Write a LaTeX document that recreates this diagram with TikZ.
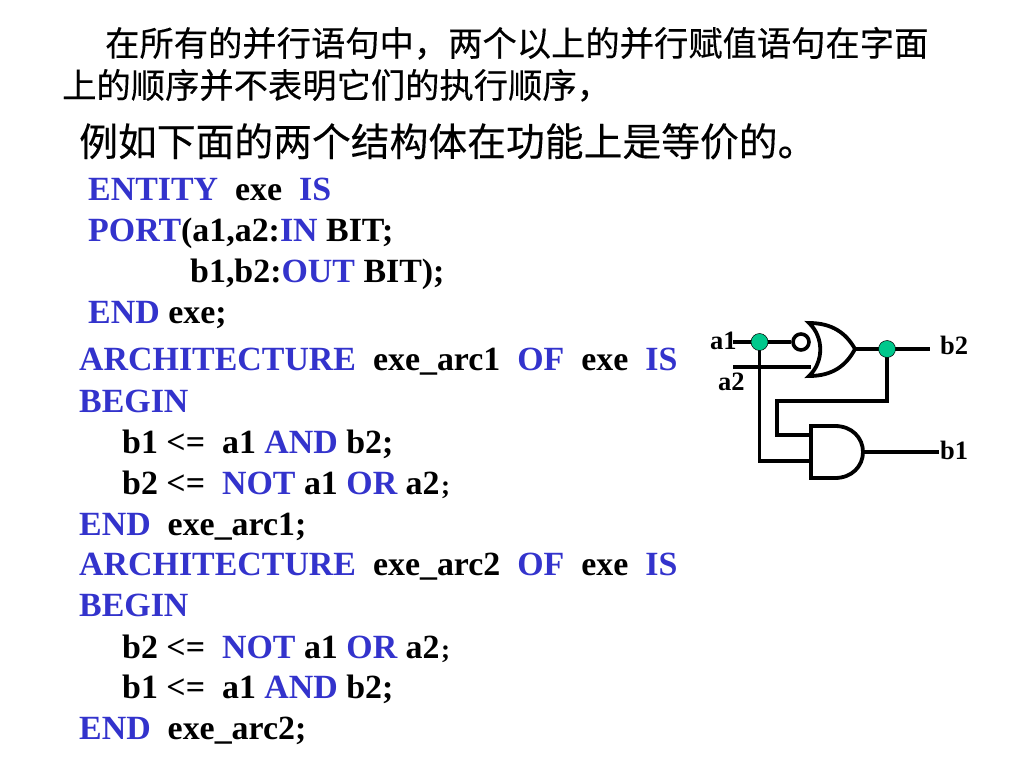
\documentclass[tikz,border=0pt]{standalone}
\usepackage{fontspec}
\setmainfont{Liberation Serif}[BoldFont={Liberation Serif Bold}]
\newfontfamily\cjk[FakeBold=0.25]{Noto Sans CJK SC}
\definecolor{kw}{RGB}{51,51,204}
\definecolor{dotgreen}{RGB}{0,200,140}
\newcommand{\K}[1]{\textcolor{kw}{#1}}
\newcommand{\Sp}{\hspace{0.5em}}
\newcommand{\Semi}{\hspace{1.5pt}{\fontsize{27}{30}\selectfont ;}}
\tikzset{
  x=1pt,y=-1pt,
  zh/.style={anchor=base west,inner sep=0pt,font=\cjk\fontsize{34.3}{40}\selectfont},
  zhbig/.style={anchor=base west,inner sep=0pt,font=\cjk\fontsize{38.8}{44}\selectfont},
  code/.style={anchor=base west,inner sep=0pt,font=\bfseries\fontsize{33.9}{40}\selectfont},
  pin/.style={anchor=base west,inner sep=0pt,font=\bfseries\fontsize{26.5}{30}\selectfont},
  wire/.style={line width=3.4pt,line join=miter,line cap=butt},
  gate/.style={line width=3.8pt,fill=white,line join=miter},
  junction/.style={circle,draw=black,line width=0.5pt,fill=dotgreen,minimum size=17pt,inner sep=0pt},
  bubble/.style={circle,draw=black,line width=3.6pt,fill=white,minimum size=16pt,inner sep=0pt},
}
\begin{document}
\begin{tikzpicture}
\useasboundingbox (0,0) rectangle (1024,768);
\node[zh] (t1) at (105,56) {在所有的并行语句中，两个以上的并行赋值语句在字面};
\node[zh] (t2) at (62,98) {上的顺序并不表明它们的执行顺序，};
\node[zhbig] (t3) at (79,156) {例如下面的两个结构体在功能上是等价的。};
\node[code] (l1) at (88,200.7) {\K{ENTITY}\Sp exe\Sp \K{IS}};
\node[code] (l2) at (88,241.7) {\K{PORT}(a1,a2:\K{IN} BIT;};
\node[code] (l3) at (190,282.7) {b1,b2:\K{OUT} BIT);};
\node[code] (l4) at (88,323.7) {\K{END} exe;};
\node[code] (l5) at (79,370.7) {\K{ARCHITECTURE}\Sp exe\_arc1\Sp \K{OF}\Sp exe\Sp \K{IS}};
\node[code] (l6) at (79,412.7) {\K{BEGIN}};
\node[code] (l7) at (122,453.7) {b1 <=\Sp a1 \K{AND} b2;};
\node[code] (l8) at (122,494.7) {b2 <=\Sp \K{NOT} a1 \K{OR} a2\Semi};
\node[code] (l9) at (79,535.7) {\K{END}\Sp exe\_arc1;};
\node[code] (l10) at (79,575.7) {\K{ARCHITECTURE}\Sp exe\_arc2\Sp \K{OF}\Sp exe\Sp \K{IS}};
\node[code] (l11) at (79,616.7) {\K{BEGIN}};
\node[code] (l12) at (122,658.7) {b2 <=\Sp \K{NOT} a1 \K{OR} a2\Semi};
\node[code] (l13) at (122,698.7) {b1 <=\Sp a1 \K{AND} b2;};
\node[code] (l14) at (79,739.7) {\K{END}\Sp exe\_arc2;};
% pins
\node[pin] (a1) at (710,349) {a1};
\node[pin] (a2) at (718,390) {a2};
\node[pin] (b2) at (940,354) {b2};
\node[pin] (b1) at (940,459) {b1};
% free ends and gate pins
\coordinate (a1end) at (733,342);
\coordinate (a2end) at (733,367);
\coordinate (orin2) at (811,367);
\coordinate (orout) at (855,349);
\coordinate (b2end) at (930,349);
\coordinate (andin1) at (810,435);
\coordinate (andin2) at (810,461);
\coordinate (andout) at (863,452);
\coordinate (b1end) at (939,452);
\coordinate (jtop) at (759.5,342);
\coordinate (jout) at (887,349);
% OR gate
\draw[gate] (809,323) .. controls (824,337) and (824,362) .. (809,376)
  .. controls (832,376) and (846,366) .. (855,349)
  .. controls (846,333) and (832,323) .. (809,323) -- cycle;
% AND gate
\draw[gate] (811,426) -- (835,426) .. controls (852,426) and (863,438) .. (863,452)
  .. controls (863,466) and (852,478) .. (835,478) -- (811,478) -- cycle;
\node[bubble] (bub) at (801,342) {};
% wires
\draw[wire] (a2end) -- (orin2);
\draw[wire] (jtop) |- (andin2);
\draw[wire] (jout) |- (777,401) |- (andin1);
\draw[wire] (a1end) -- (bub);
\draw[wire] (orout) -- (b2end);
\draw[wire] (andout) -- (b1end);
\node[junction] (j1) at (jtop) {};
\node[junction] (j2) at (jout) {};
\end{tikzpicture}
\end{document}
